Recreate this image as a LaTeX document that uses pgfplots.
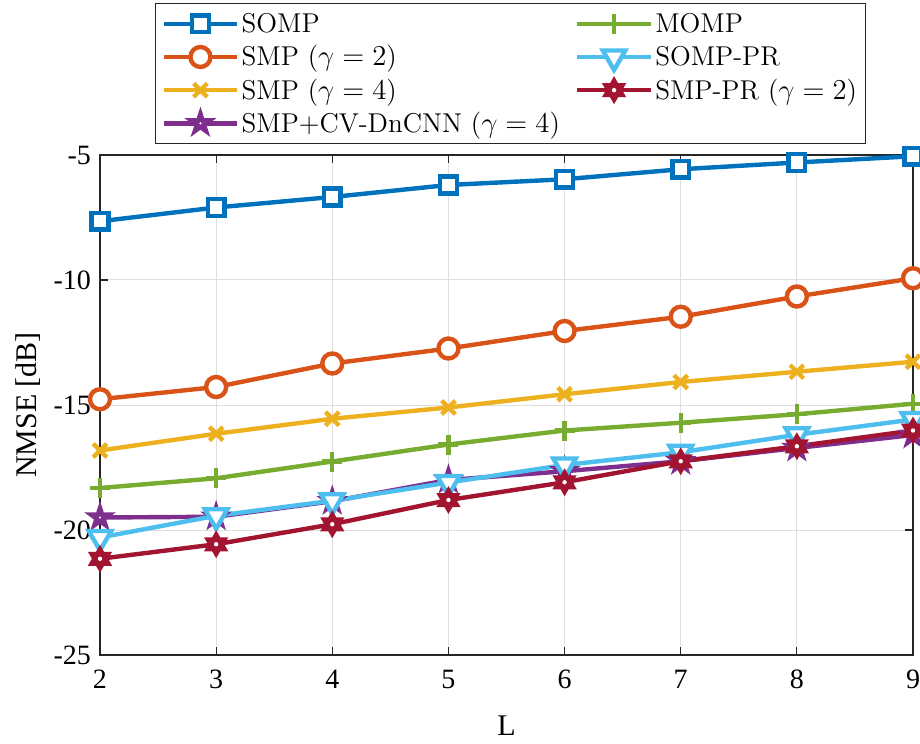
\documentclass[border=0pt]{standalone}
\usepackage{fontspec}
\setmainfont{Liberation Serif}
\newfontfamily\lmr{Latin Modern Roman}
\usepackage{pgfplots}
\pgfplotsset{compat=1.18}
\definecolor{c1}{HTML}{0072BD}
\definecolor{c2}{HTML}{D95319}
\definecolor{c3}{HTML}{EDB120}
\definecolor{c4}{HTML}{7E2F8E}
\definecolor{c5}{HTML}{77AC30}
\definecolor{c6}{HTML}{4DBEEE}
\definecolor{c7}{HTML}{A2142F}
\pgfdeclareplotmark{hexagram}{%
  \pgfpathmoveto{\pgfpointpolar{90}{\pgfplotmarksize}}%
  \pgfpathlineto{\pgfpointpolar{120}{0.57735\pgfplotmarksize}}%
  \pgfpathlineto{\pgfpointpolar{150}{\pgfplotmarksize}}%
  \pgfpathlineto{\pgfpointpolar{180}{0.57735\pgfplotmarksize}}%
  \pgfpathlineto{\pgfpointpolar{210}{\pgfplotmarksize}}%
  \pgfpathlineto{\pgfpointpolar{240}{0.57735\pgfplotmarksize}}%
  \pgfpathlineto{\pgfpointpolar{270}{\pgfplotmarksize}}%
  \pgfpathlineto{\pgfpointpolar{300}{0.57735\pgfplotmarksize}}%
  \pgfpathlineto{\pgfpointpolar{330}{\pgfplotmarksize}}%
  \pgfpathlineto{\pgfpointpolar{0}{0.57735\pgfplotmarksize}}%
  \pgfpathlineto{\pgfpointpolar{30}{\pgfplotmarksize}}%
  \pgfpathlineto{\pgfpointpolar{60}{0.57735\pgfplotmarksize}}%
  \pgfpathclose
  \pgfusepathqfillstroke
  \pgfscope
  \pgfsetfillcolor{white}%
  \pgfpathcircle{\pgfpointorigin}{1.1pt}%
  \pgfusepathqfill
  \endpgfscope
}
\pgfdeclareplotmark{pentagram}{%
  \pgfpathmoveto{\pgfpointpolar{90}{\pgfplotmarksize}}%
  \pgfpathlineto{\pgfpointpolar{126}{0.382\pgfplotmarksize}}%
  \pgfpathlineto{\pgfpointpolar{162}{\pgfplotmarksize}}%
  \pgfpathlineto{\pgfpointpolar{198}{0.382\pgfplotmarksize}}%
  \pgfpathlineto{\pgfpointpolar{234}{\pgfplotmarksize}}%
  \pgfpathlineto{\pgfpointpolar{270}{0.382\pgfplotmarksize}}%
  \pgfpathlineto{\pgfpointpolar{306}{\pgfplotmarksize}}%
  \pgfpathlineto{\pgfpointpolar{342}{0.382\pgfplotmarksize}}%
  \pgfpathlineto{\pgfpointpolar{18}{\pgfplotmarksize}}%
  \pgfpathlineto{\pgfpointpolar{54}{0.382\pgfplotmarksize}}%
  \pgfpathclose
  \pgfusepathqfillstroke
  \pgfscope
  \pgfsetfillcolor{white}%
  \pgfpathcircle{\pgfpointorigin}{0.6pt}%
  \pgfusepathqfill
  \endpgfscope
}
\pgfplotsset{
  sA/.style={color=c1, line width=2.2pt, mark=square*, mark size=4.2pt, mark options={fill=white, solid}},
  sB/.style={color=c2, line width=2.2pt, mark=*, mark size=5pt, mark options={fill=white, solid}},
  sC/.style={color=c3, line width=2.2pt, mark=x, mark size=4.8pt, mark options={solid}},
  sD/.style={color=c4, line width=2.2pt, mark=pentagram, mark size=5.8pt, mark options={fill=c4, solid, line width=1.6pt}},
  sE/.style={color=c5, line width=2.2pt, mark=+, mark size=5pt, mark options={solid}},
  sF/.style={color=c6, line width=2.2pt, mark=triangle*, mark size=6.5pt, mark options={fill=white, solid, rotate=180}},
  sG/.style={color=c7, line width=2.2pt, mark=hexagram, mark size=5.4pt, mark options={fill=c7, solid, line width=1.6pt}},
}
\begin{document}
\begin{tikzpicture}
\begin{axis}[
  width=406.5pt, height=250pt, scale only axis,
  xmin=2, xmax=9, ymin=-25, ymax=-5,
  xtick={2,3,4,5,6,7,8,9}, ytick={-25,-20,-15,-10,-5},
  grid=major, major grid style={draw=black!13, line width=0.5pt},
  axis line style={black!85, line width=0.6pt},
  tick align=inside, major tick length=4pt,
  tick style={black!85, line width=0.6pt},
  /pgf/number format/assume math mode=true,
  tick label style={font=\fontsize{14}{14}\selectfont},
  xticklabel style={yshift=-4pt},
  yticklabel style={xshift=-1pt},
  xlabel={L}, ylabel={NMSE [dB]},
  label style={font=\fontsize{15}{15}\selectfont},
  xlabel style={at={(axis description cs:0.5,-0.142)}, anchor=center},
  ylabel style={at={(axis description cs:-0.0886,0.5)}, anchor=center},
  clip=false,
  legend columns=2,
  legend image code/.code={\draw[mark repeat=2,mark phase=2] plot coordinates {(0pt,0pt) (18.3pt,0pt) (36.6pt,0pt)};},
  legend style={at={(axis description cs:0.0677,1.304)}, anchor=north west,
    draw=black!85, line width=0.6pt, inner xsep=3pt, inner ysep=1.8pt,
    font=\lmr\fontsize{13.6}{16}\selectfont,
    cells={anchor=west},
    nodes={text height=12pt, text depth=3pt, inner ysep=0.8pt, inner xsep=1.2pt},
    /tikz/every even column/.append style={column sep=6.5pt}},
  legend cell align=left,
]
\addplot[sA, forget plot] coordinates {(2,-7.65) (3,-7.1) (4,-6.68) (5,-6.2) (6,-5.97) (7,-5.57) (8,-5.3) (9,-5.05)};
\addplot[sB, forget plot] coordinates {(2,-14.77) (3,-14.28) (4,-13.34) (5,-12.74) (6,-12.04) (7,-11.47) (8,-10.66) (9,-9.93)};
\addplot[sC, forget plot] coordinates {(2,-16.82) (3,-16.15) (4,-15.55) (5,-15.1) (6,-14.57) (7,-14.08) (8,-13.67) (9,-13.27)};
\addplot[sD, forget plot] coordinates {(2,-19.5) (3,-19.47) (4,-18.85) (5,-18.0) (6,-17.65) (7,-17.25) (8,-16.72) (9,-16.2)};
\addplot[sE, forget plot] coordinates {(2,-18.32) (3,-17.93) (4,-17.26) (5,-16.58) (6,-16.02) (7,-15.71) (8,-15.37) (9,-14.95)};
\addplot[sF, forget plot] coordinates {(2,-20.3) (3,-19.43) (4,-18.83) (5,-18.1) (6,-17.4) (7,-16.89) (8,-16.19) (9,-15.58)};
\addplot[sG, forget plot] coordinates {(2,-21.15) (3,-20.57) (4,-19.77) (5,-18.8) (6,-18.09) (7,-17.25) (8,-16.65) (9,-16.02)};
\addlegendimage{sA}\addlegendentry{SOMP}
\addlegendimage{sE}\addlegendentry{MOMP}
\addlegendimage{sB}\addlegendentry{SMP ($\gamma=2$)}
\addlegendimage{sF}\addlegendentry{SOMP-PR}
\addlegendimage{sC}\addlegendentry{SMP ($\gamma=4$)}
\addlegendimage{sG}\addlegendentry{SMP-PR ($\gamma=2$)}
\addlegendimage{sD}\addlegendentry{SMP+CV-DnCNN ($\gamma=4$)}
\coordinate (ll) at (rel axis cs:0,0);
\coordinate (ur) at (rel axis cs:1,1);
\end{axis}
\pgfresetboundingbox
\path ([xshift=-50pt,yshift=-44pt]ll) rectangle ([xshift=3.5pt,yshift=77.5pt]ur);
\end{tikzpicture}
\end{document}
